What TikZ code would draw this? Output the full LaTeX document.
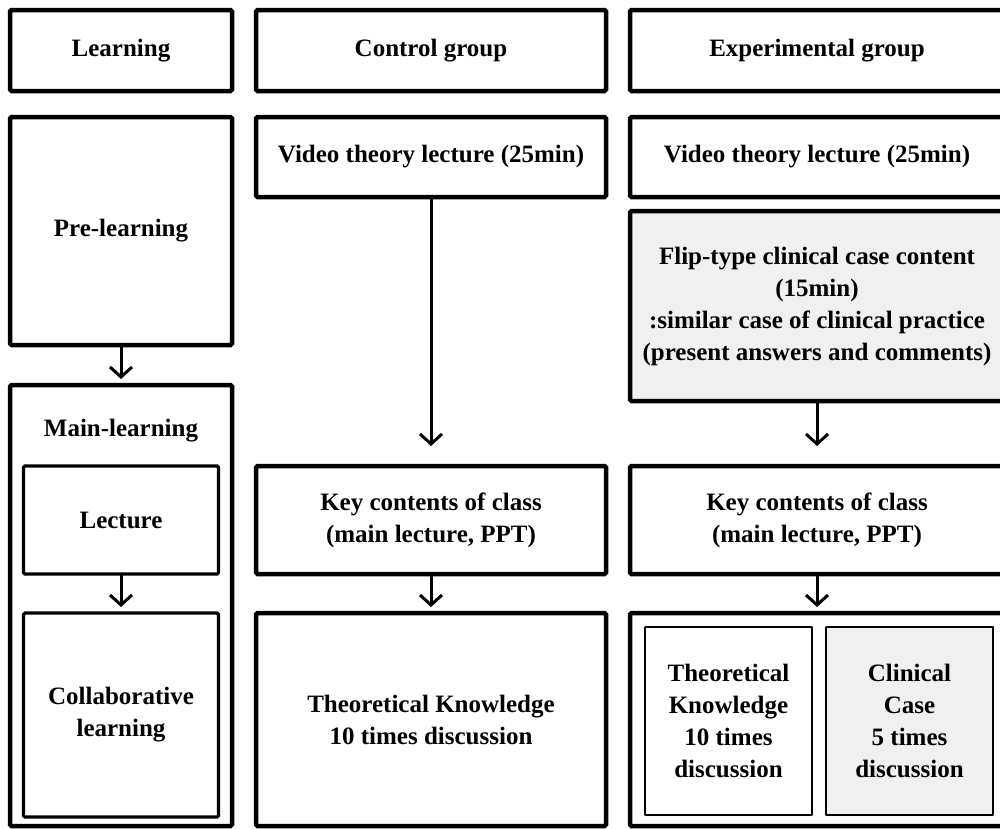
\documentclass[tikz,border=0pt]{standalone}
\usepackage{fontspec}
\setmainfont{Liberation Serif}
\usetikzlibrary{positioning,arrows.meta}

\tikzset{
  box/.style={draw,line width=4.5pt,rounded corners=1.5pt,outer sep=0pt,inner sep=2pt,
    align=center,font=\bfseries\fontsize{25}{32}\selectfont},
  inbox/.style={box,line width=3.2pt},
  thinbox/.style={box,line width=1.8pt,rounded corners=0.5pt},
  shaded/.style={fill=black!6},
  flow/.style={line width=3pt,-{Straight Barb[length=10pt,width=22pt,line width=3pt]},shorten >=6pt}
}

\begin{document}
\begin{tikzpicture}[x=1pt,y=-1pt]
  \useasboundingbox (0,0) rectangle (1000,828);

  % header row
  \node[box,minimum width=222pt,minimum height=81pt] (learn) at (121,50.5) {Learning};
  \node[box,minimum width=350pt,minimum height=81pt] (ctrl) [right=24pt of learn] {Control group};
  \node[box,minimum width=374pt,minimum height=81pt] (expt) [right=24pt of ctrl] {Experimental group};

  % learning column
  \node[box,minimum width=222pt,minimum height=228pt] (pre) [below=26pt of learn] {Pre-learning};
  \node[box,minimum width=222pt,minimum height=441pt] (main) [below=40pt of pre] {};
  \node[font=\bfseries\fontsize{25}{32}\selectfont] (mainlbl) at (121,431) {Main-learning};
  \node[inbox,minimum width=195pt,minimum height=108pt] (lect) [below=81pt of main.north] {Lecture};
  \node[inbox,minimum width=195pt,minimum height=204pt] (collab) [below=39pt of lect] {Collaborative\\learning};

  % control group
  \node[box,minimum width=350pt,minimum height=80pt] (cvid) [below=26pt of ctrl] {Video theory lecture (25min)};
  \node[box,minimum width=350pt,minimum height=108pt] (ckey) [below=269pt of cvid] {Key contents of class\\(main lecture, PPT)};
  \node[box,minimum width=350pt,minimum height=213pt] (cdisc) [below=39pt of ckey] {Theoretical Knowledge\\10 times discussion};

  % experimental group
  \node[box,minimum width=374pt,minimum height=80pt] (evid) [below=26pt of expt] {Video theory lecture (25min)};
  \node[box,shaded,minimum width=374pt,minimum height=190pt] (eflip) [below=14pt of evid]
    {Flip-type clinical case content\\(15min)\\:similar case of clinical practice\\(present answers and comments)};
  \node[box,minimum width=374pt,minimum height=108pt] (ekey) [below=65pt of eflip] {Key contents of class\\(main lecture, PPT)};
  \node[box,minimum width=374pt,minimum height=213pt] (edisc) [below=39pt of ekey] {};
  \node[thinbox,minimum width=167pt,minimum height=188pt] (etk) at (728.5,721) {Theoretical\\Knowledge\\10 times\\discussion};
  \node[thinbox,shaded,minimum width=167pt,minimum height=188pt] (ecase) [right=14pt of etk] {Clinical\\Case\\5 times\\discussion};

  % arrows
  \draw[flow] (pre) -- (main);
  \draw[flow] (lect) -- (collab);
  \draw[flow,shorten >=20pt] (cvid) -- (ckey);
  \draw[flow] (ckey) -- (cdisc);
  \draw[flow,shorten >=20pt] (eflip) -- (ekey);
  \draw[flow] (ekey) -- (edisc);
\end{tikzpicture}
\end{document}
